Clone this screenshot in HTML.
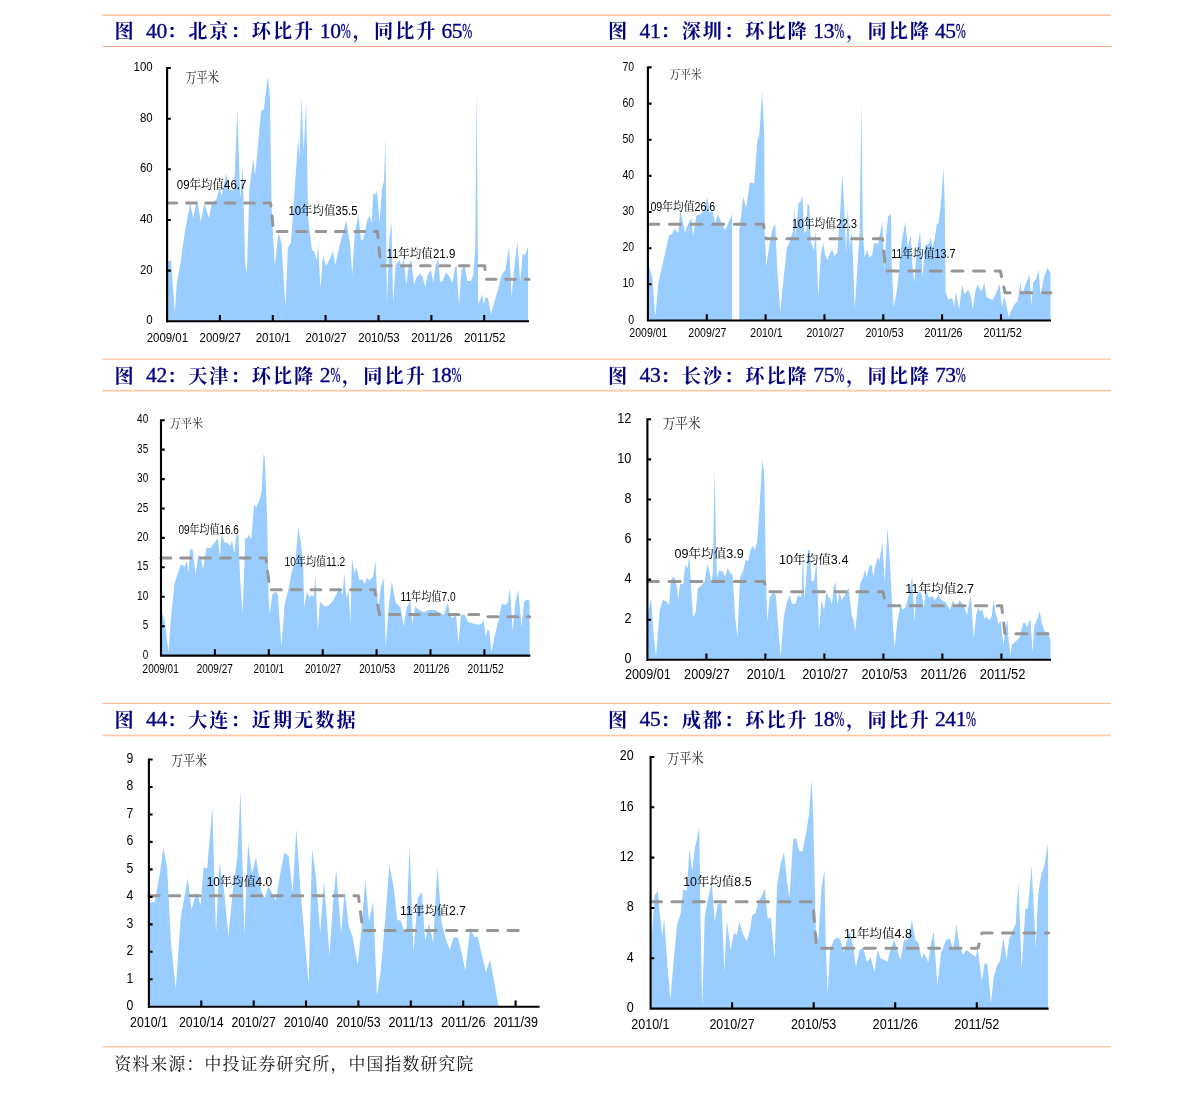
<!DOCTYPE html>
<html lang="zh"><head><meta charset="utf-8"><title>charts</title>
<style>html,body{margin:0;padding:0;background:#fff}svg{display:block}</style></head>
<body><svg width="1191" height="1094" viewBox="0 0 1191 1094">
<rect width="1191" height="1094" fill="#fff"/>
<path d="M167.1 321.3 L167.1 261.2 L171.1 260.5 L174.8 313.1 L176.8 283.5 L181 260 L184.7 232.8 L190.1 203.2 L193.3 218 L197 198.3 L200.7 221.7 L204.4 203.2 L208.9 218 L211.9 203.2 L216.3 199.5 L219.3 188.4 L221.7 195.8 L226.2 173.6 L229.1 190.9 L234.1 189.6 L237.3 109.4 L240.2 198.3 L242.7 166.2 L245.2 264.9 L246.9 272.3 L249.4 188.4 L253.3 158.8 L255.1 176 L261.2 110.6 L263.7 109.4 L267.9 76.8 L269.9 97 L271.6 208.1 L274.8 266.2 L278.5 232.8 L281.5 242.7 L285.4 306.9 L287.9 247.7 L290.9 242.7 L294.6 190.9 L298.3 136.5 L299.5 158.8 L301.5 98.3 L303.7 151.4 L306.2 102 L308.1 218 L311.9 250.1 L314.3 251.4 L316.8 260 L318 244 L320.5 288.4 L323 255.1 L325.9 266.2 L330.4 257.5 L332.8 251.4 L335.3 264.9 L339 247.7 L340 244 L343 232.8 L346.2 220.5 L349.9 242.7 L352.3 274.8 L354.8 232.8 L358.5 214.3 L361 240.2 L363.5 239 L367.2 220.5 L369.6 215.6 L371.6 223 L373.3 193.3 L375.8 194.6 L377 190.9 L379.5 223 L382 188.4 L384 181 L385.4 137.8 L386.9 304.4 L389.4 237.8 L391.4 221.7 L393.1 303.2 L395.6 264.9 L399.3 260 L401.7 266.2 L403.7 257.5 L406.2 284.7 L408.6 267.4 L411.1 258.8 L414.1 284.7 L416.5 277.3 L420.2 273.6 L422.7 277.3 L425.2 287.2 L427.7 274.8 L430.9 269.9 L433.3 282.2 L435.8 264.9 L438.3 258.8 L440 282.2 L442.5 281 L446.2 272.3 L449.9 277.3 L452.3 283.5 L454.8 268.6 L456.5 264.9 L459 305.7 L461.5 269.9 L464.7 264.9 L467.2 281 L470.9 281 L473.3 274.8 L475.3 247.7 L476.5 88.4 L478.3 304.4 L482 294.6 L483.7 304.4 L485.7 297 L488.1 298.3 L491.1 314.3 L493.6 304.4 L498 289.6 L501.7 274.8 L505.4 269.9 L509.1 246.4 L511.6 297 L514.8 262.5 L517.3 241.5 L520.2 282.2 L522.7 253.8 L525.2 255.1 L527.7 247.7 L528 247.7 L528 321.3Z" fill="#99ccff"/>
<path d="M167.1 203 L270.6 203 L273.6 231.4 L377.5 231.4 L380.7 265.8 L484.6 265.8 L486.5 279.3 L529 279.3" fill="none" stroke="#969696" stroke-width="3" stroke-dasharray="9.6 9.8" stroke-linecap="round" stroke-linejoin="round"/>
<path d="M167.1 67V322.4M166.1 321.3H529M167.1 270.6h3.7M167.1 220h3.7M167.1 169.3h3.7M167.1 118.7h3.7M167.1 68h3.7M219.9 321.3v-6.3M272.8 321.3v-6.3M325.6 321.3v-6.3M378.5 321.3v-6.3M431.4 321.3v-6.3M484.2 321.3v-6.3" fill="none" stroke="#000" stroke-width="2.1"/>
<text x="152.7" y="324.3" font-size="13.3" font-family='"Liberation Sans","Noto Serif CJK SC",sans-serif' fill="#000" text-anchor="end" textLength="6.4" lengthAdjust="spacingAndGlyphs">0</text>
<text x="152.7" y="273.6" font-size="13.3" font-family='"Liberation Sans","Noto Serif CJK SC",sans-serif' fill="#000" text-anchor="end" textLength="12.7" lengthAdjust="spacingAndGlyphs">20</text>
<text x="152.7" y="222.9" font-size="13.3" font-family='"Liberation Sans","Noto Serif CJK SC",sans-serif' fill="#000" text-anchor="end" textLength="12.7" lengthAdjust="spacingAndGlyphs">40</text>
<text x="152.7" y="172.3" font-size="13.3" font-family='"Liberation Sans","Noto Serif CJK SC",sans-serif' fill="#000" text-anchor="end" textLength="12.7" lengthAdjust="spacingAndGlyphs">60</text>
<text x="152.7" y="121.6" font-size="13.3" font-family='"Liberation Sans","Noto Serif CJK SC",sans-serif' fill="#000" text-anchor="end" textLength="12.7" lengthAdjust="spacingAndGlyphs">80</text>
<text x="152.7" y="71" font-size="13.3" font-family='"Liberation Sans","Noto Serif CJK SC",sans-serif' fill="#000" text-anchor="end" textLength="19.1" lengthAdjust="spacingAndGlyphs">100</text>
<text x="146.7" y="342" font-size="13.3" font-family='"Liberation Sans","Noto Serif CJK SC",sans-serif' fill="#000" textLength="41.3" lengthAdjust="spacingAndGlyphs">2009/01</text>
<text x="199.6" y="342" font-size="13.3" font-family='"Liberation Sans","Noto Serif CJK SC",sans-serif' fill="#000" textLength="41.3" lengthAdjust="spacingAndGlyphs">2009/27</text>
<text x="255.7" y="342" font-size="13.3" font-family='"Liberation Sans","Noto Serif CJK SC",sans-serif' fill="#000" textLength="35" lengthAdjust="spacingAndGlyphs">2010/1</text>
<text x="305.4" y="342" font-size="13.3" font-family='"Liberation Sans","Noto Serif CJK SC",sans-serif' fill="#000" textLength="41.3" lengthAdjust="spacingAndGlyphs">2010/27</text>
<text x="358.3" y="342" font-size="13.3" font-family='"Liberation Sans","Noto Serif CJK SC",sans-serif' fill="#000" textLength="41.3" lengthAdjust="spacingAndGlyphs">2010/53</text>
<text x="411.2" y="342" font-size="13.3" font-family='"Liberation Sans","Noto Serif CJK SC",sans-serif' fill="#000" textLength="41.3" lengthAdjust="spacingAndGlyphs">2011/26</text>
<text x="464.1" y="342" font-size="13.3" font-family='"Liberation Sans","Noto Serif CJK SC",sans-serif' fill="#000" textLength="41.3" lengthAdjust="spacingAndGlyphs">2011/52</text>
<text x="185.4" y="81.8" font-size="13.1" font-family='"Liberation Serif","Noto Serif CJK SC",serif' fill="#222" textLength="33.6" lengthAdjust="spacingAndGlyphs">万平米</text>
<text x="176.8" y="188.6" font-size="12.3" font-family='"Liberation Sans","Noto Serif CJK SC",sans-serif' fill="#000" textLength="69.6" lengthAdjust="spacingAndGlyphs">09年均值46.7</text>
<text x="288.4" y="214.6" font-size="12.3" font-family='"Liberation Sans","Noto Serif CJK SC",sans-serif' fill="#000" textLength="69.1" lengthAdjust="spacingAndGlyphs">10年均值35.5</text>
<text x="386.4" y="257.5" font-size="12.3" font-family='"Liberation Sans","Noto Serif CJK SC",sans-serif' fill="#000" textLength="68.9" lengthAdjust="spacingAndGlyphs">11年均值21.9</text>
<path d="M647.9 320.5 L647.9 262.5 L652.3 277.3 L655.3 316.8 L658.5 282.2 L664.7 255.1 L669.1 235.3 L672.1 234.1 L674.1 229.1 L678.3 232.8 L680.2 210.6 L683.2 224.2 L684.9 232.8 L688.1 224.2 L691.4 218 L693.1 236.5 L696.3 215.6 L700.5 214.3 L704.2 210.6 L707.2 197 L709.6 213.1 L712.1 210.6 L715.3 223 L717.8 214.3 L721.5 223 L725.2 230.4 L729.4 220.5 L732.1 214.3 L732.1 320 L739.3 320 L739.3 230.4 L743.2 197 L746.2 208.1 L749.9 182.2 L754.1 183.5 L757.3 141.5 L759.3 134.1 L762.2 92.1 L764.2 134.1 L764.7 232.8 L766.4 266.2 L769.6 242.7 L772.8 227.9 L775.3 224.2 L777 264.9 L780.2 311.9 L783.2 282.2 L786.9 247.7 L789.4 242.7 L793.1 230.4 L794.3 205.7 L795.6 237.8 L798.5 203.2 L800.5 202 L802.5 195.8 L804.2 232.8 L806.7 230.4 L807.4 203.2 L809.4 205.7 L810.9 242.7 L814.1 250.1 L815.8 230.4 L818.3 297 L820.7 255.1 L823.2 242.7 L825.2 255.1 L827.7 260 L830 252.6 L832.5 250.1 L834.4 256.3 L837.4 252.6 L840.4 208.1 L842.3 173.6 L844.3 208.1 L846 252.6 L847.8 208.1 L849.8 247.7 L851.7 230.4 L853 257.5 L854.7 309.4 L857.2 269.9 L859.6 232.8 L861.4 103.2 L862.8 232.8 L864.6 257.5 L867 250.1 L869.5 257.5 L872 255.1 L874.4 242.7 L878.1 244 L880.6 230.4 L882.3 220.5 L884.3 269.9 L886.3 232.8 L888 216.8 L891 214.3 L891.7 264.9 L893.7 306.9 L896.7 292.1 L899.1 269.9 L901.6 242.7 L905.3 221.7 L907.8 247.7 L910.7 235.3 L912.7 269.9 L914.4 282.2 L916.4 255.1 L920.1 230.4 L922.6 277.3 L925.1 245.2 L928.8 244 L930.7 237.8 L932.5 247.7 L934.9 237.8 L936.7 224.2 L938.6 223 L941.1 200.7 L943.6 167.4 L944.8 208.1 L945.6 292.1 L948 299.5 L952.2 298.3 L954.2 306.9 L955.9 292.1 L959.1 309.4 L962.1 284.7 L964.6 294.6 L968.3 289.6 L971.2 298.3 L972.7 309.4 L975.7 289.6 L978.1 284.7 L980.6 290.9 L980 291.4 L982.5 288.9 L984.3 282.1 L986.2 296.3 L989.3 298.8 L993 299.4 L996 293.8 L999.5 284 L1002 307.4 L1004.1 296.3 L1005.9 302.5 L1008.6 317.3 L1010.9 311.1 L1015.8 302.5 L1017.7 301.2 L1020.5 282.1 L1022 295.1 L1025.7 284 L1029.6 274.7 L1031.2 306.2 L1033.1 282.7 L1036.2 279 L1038.6 269.8 L1040.5 295.1 L1044.2 276.5 L1047.5 267.9 L1050.1 272.8 L1050.5 272.8 L1050.5 320.5Z" fill="#99ccff"/>
<path d="M647.9 224.3 L763.5 224.3 L766 238.8 L882.6 238.8 L885.6 271 L1000.4 271 L1005 292.7 L1051 292.7" fill="none" stroke="#969696" stroke-width="3" stroke-dasharray="11 10.6" stroke-linecap="round" stroke-linejoin="round"/>
<path d="M647.9 66.4V321.6M646.9 320.5H1051M647.9 284.3h3.7M647.9 248.2h3.7M647.9 212h3.7M647.9 175.9h3.7M647.9 139.7h3.7M647.9 103.6h3.7M647.9 67.4h3.7M706.8 320.5v-6.3M765.6 320.5v-6.3M824.5 320.5v-6.3M883.3 320.5v-6.3M942.1 320.5v-6.3M1001 320.5v-6.3" fill="none" stroke="#000" stroke-width="2.1"/>
<text x="634.2" y="323.6" font-size="12.8" font-family='"Liberation Sans","Noto Serif CJK SC",sans-serif' fill="#000" text-anchor="end" textLength="5.9" lengthAdjust="spacingAndGlyphs">0</text>
<text x="634.2" y="287.4" font-size="12.8" font-family='"Liberation Sans","Noto Serif CJK SC",sans-serif' fill="#000" text-anchor="end" textLength="11.7" lengthAdjust="spacingAndGlyphs">10</text>
<text x="634.2" y="251.3" font-size="12.8" font-family='"Liberation Sans","Noto Serif CJK SC",sans-serif' fill="#000" text-anchor="end" textLength="11.7" lengthAdjust="spacingAndGlyphs">20</text>
<text x="634.2" y="215.1" font-size="12.8" font-family='"Liberation Sans","Noto Serif CJK SC",sans-serif' fill="#000" text-anchor="end" textLength="11.7" lengthAdjust="spacingAndGlyphs">30</text>
<text x="634.2" y="179" font-size="12.8" font-family='"Liberation Sans","Noto Serif CJK SC",sans-serif' fill="#000" text-anchor="end" textLength="11.7" lengthAdjust="spacingAndGlyphs">40</text>
<text x="634.2" y="142.8" font-size="12.8" font-family='"Liberation Sans","Noto Serif CJK SC",sans-serif' fill="#000" text-anchor="end" textLength="11.7" lengthAdjust="spacingAndGlyphs">50</text>
<text x="634.2" y="106.6" font-size="12.8" font-family='"Liberation Sans","Noto Serif CJK SC",sans-serif' fill="#000" text-anchor="end" textLength="11.7" lengthAdjust="spacingAndGlyphs">60</text>
<text x="634.2" y="70.5" font-size="12.8" font-family='"Liberation Sans","Noto Serif CJK SC",sans-serif' fill="#000" text-anchor="end" textLength="11.7" lengthAdjust="spacingAndGlyphs">70</text>
<text x="629.3" y="336.9" font-size="12.8" font-family='"Liberation Sans","Noto Serif CJK SC",sans-serif' fill="#000" textLength="38.1" lengthAdjust="spacingAndGlyphs">2009/01</text>
<text x="688.3" y="336.9" font-size="12.8" font-family='"Liberation Sans","Noto Serif CJK SC",sans-serif' fill="#000" textLength="38.1" lengthAdjust="spacingAndGlyphs">2009/27</text>
<text x="750.3" y="336.9" font-size="12.8" font-family='"Liberation Sans","Noto Serif CJK SC",sans-serif' fill="#000" textLength="32.2" lengthAdjust="spacingAndGlyphs">2010/1</text>
<text x="806.4" y="336.9" font-size="12.8" font-family='"Liberation Sans","Noto Serif CJK SC",sans-serif' fill="#000" textLength="38.1" lengthAdjust="spacingAndGlyphs">2010/27</text>
<text x="865.5" y="336.9" font-size="12.8" font-family='"Liberation Sans","Noto Serif CJK SC",sans-serif' fill="#000" textLength="38.1" lengthAdjust="spacingAndGlyphs">2010/53</text>
<text x="924.5" y="336.9" font-size="12.8" font-family='"Liberation Sans","Noto Serif CJK SC",sans-serif' fill="#000" textLength="38.1" lengthAdjust="spacingAndGlyphs">2011/26</text>
<text x="983.6" y="336.9" font-size="12.8" font-family='"Liberation Sans","Noto Serif CJK SC",sans-serif' fill="#000" textLength="38.1" lengthAdjust="spacingAndGlyphs">2011/52</text>
<text x="669.6" y="78.6" font-size="12.1" font-family='"Liberation Serif","Noto Serif CJK SC",serif' fill="#222" textLength="32.1" lengthAdjust="spacingAndGlyphs">万平米</text>
<text x="650.4" y="211.2" font-size="12.3" font-family='"Liberation Sans","Noto Serif CJK SC",sans-serif' fill="#000" textLength="64.9" lengthAdjust="spacingAndGlyphs">09年均值26.6</text>
<text x="791.9" y="227.6" font-size="12.3" font-family='"Liberation Sans","Noto Serif CJK SC",sans-serif' fill="#000" textLength="65.1" lengthAdjust="spacingAndGlyphs">10年均值22.3</text>
<text x="891.2" y="257.6" font-size="12.3" font-family='"Liberation Sans","Noto Serif CJK SC",sans-serif' fill="#000" textLength="64.3" lengthAdjust="spacingAndGlyphs">11年均值13.7</text>
<path d="M161 655.6 L161 609.9 L164.8 621 L168.5 651.9 L171 617.3 L174.7 582.7 L177.2 575.3 L180.9 564.2 L184.6 566.7 L187 560.5 L188.3 572.8 L190.2 549.4 L192.5 549.4 L195.7 574.1 L198.1 555.6 L200.6 556.8 L203.1 569.1 L206.3 548.1 L210.5 548.1 L214.2 543.2 L217.9 538.3 L219.9 558 L221.6 533.3 L224.1 542 L227.8 543.2 L230.2 545.7 L232 540.7 L234.4 553.1 L236.4 534.6 L238.4 534.6 L240.1 577.8 L242.6 613.6 L244.6 560.5 L245.1 538.3 L247.5 538.3 L248.8 534.6 L251.2 539.5 L254.2 503.7 L256.2 507.4 L259.9 498.8 L261.6 491.4 L263.6 454.3 L264.8 458 L267.3 523.5 L268.5 597.5 L269.8 613.6 L272.2 595.1 L275.9 591.4 L277.9 595.1 L281.4 646.9 L284.6 604.9 L288.3 590.1 L292 570.4 L295.7 560.5 L298.1 527.2 L300.6 540.7 L303.1 563 L304.3 607.4 L306.8 591.4 L309.3 597.5 L311.7 595.1 L313.5 597.5 L315.4 576.5 L317.9 632.1 L319.9 601.2 L324.1 606.2 L327.8 606.2 L332.7 601.2 L337.7 591.4 L340 587.7 L342.5 595.1 L344.4 572.8 L346.2 597.5 L348.6 591.4 L350.4 623.5 L351.9 558 L354.3 572.8 L356.8 567.9 L359.3 580.2 L362.2 579 L364.7 584 L367.2 577.8 L369.6 580.2 L373.3 576.5 L375.3 560.5 L377 590.1 L378.3 609.9 L380.7 587.7 L383.7 577.8 L385.7 646.9 L388.9 604.9 L391.9 581.5 L395.6 602.5 L400.5 607.4 L403.7 625.9 L406.7 607.4 L410.4 601.2 L412.3 623.5 L415.3 606.2 L419 609.9 L424 612.3 L428.9 609.9 L435.1 609.9 L438.8 612.3 L443.7 614.8 L447.9 602.5 L449.9 614.8 L452.3 618.5 L456 614.8 L458.5 643.2 L461 614.8 L464.7 614.8 L468.4 622.2 L473.3 623.5 L478.3 624.7 L482 623.5 L483.7 619.8 L485.7 637 L487.7 629.6 L489.4 630.9 L491.4 651.9 L494.3 638.3 L498 622.2 L501.7 603.7 L505.4 604.9 L507.9 602.5 L509.9 587.7 L512.8 632.1 L515.3 602.5 L518.3 590.1 L521.5 627.2 L524 602.5 L526.4 599.5 L528.9 600.5 L529.6 600.5 L529.6 655.6Z" fill="#99ccff"/>
<path d="M161 557.9 L266 557.9 L269.8 589.7 L374.6 589.7 L379.5 614.4 L484.4 614.4 L488 616.8 L529.6 616.8" fill="none" stroke="#969696" stroke-width="3" stroke-dasharray="9.9 9.9" stroke-linecap="round" stroke-linejoin="round"/>
<path d="M161 419.2V656.7M160 655.6H530.3M161 626.2h3.7M161 596.8h3.7M161 567.3h3.7M161 537.9h3.7M161 508.5h3.7M161 479.1h3.7M161 449.6h3.7M161 420.2h3.7M214.9 655.6v-6.3M268.8 655.6v-6.3M322.7 655.6v-6.3M376.6 655.6v-6.3M430.5 655.6v-6.3M484.4 655.6v-6.3" fill="none" stroke="#000" stroke-width="2.1"/>
<text x="148.2" y="658.7" font-size="12.8" font-family='"Liberation Sans","Noto Serif CJK SC",sans-serif' fill="#000" text-anchor="end" textLength="5.5" lengthAdjust="spacingAndGlyphs">0</text>
<text x="148.2" y="629.3" font-size="12.8" font-family='"Liberation Sans","Noto Serif CJK SC",sans-serif' fill="#000" text-anchor="end" textLength="5.5" lengthAdjust="spacingAndGlyphs">5</text>
<text x="148.2" y="599.8" font-size="12.8" font-family='"Liberation Sans","Noto Serif CJK SC",sans-serif' fill="#000" text-anchor="end" textLength="11.1" lengthAdjust="spacingAndGlyphs">10</text>
<text x="148.2" y="570.4" font-size="12.8" font-family='"Liberation Sans","Noto Serif CJK SC",sans-serif' fill="#000" text-anchor="end" textLength="11.1" lengthAdjust="spacingAndGlyphs">15</text>
<text x="148.2" y="541" font-size="12.8" font-family='"Liberation Sans","Noto Serif CJK SC",sans-serif' fill="#000" text-anchor="end" textLength="11.1" lengthAdjust="spacingAndGlyphs">20</text>
<text x="148.2" y="511.6" font-size="12.8" font-family='"Liberation Sans","Noto Serif CJK SC",sans-serif' fill="#000" text-anchor="end" textLength="11.1" lengthAdjust="spacingAndGlyphs">25</text>
<text x="148.2" y="482.1" font-size="12.8" font-family='"Liberation Sans","Noto Serif CJK SC",sans-serif' fill="#000" text-anchor="end" textLength="11.1" lengthAdjust="spacingAndGlyphs">30</text>
<text x="148.2" y="452.7" font-size="12.8" font-family='"Liberation Sans","Noto Serif CJK SC",sans-serif' fill="#000" text-anchor="end" textLength="11.1" lengthAdjust="spacingAndGlyphs">35</text>
<text x="148.2" y="423.3" font-size="12.8" font-family='"Liberation Sans","Noto Serif CJK SC",sans-serif' fill="#000" text-anchor="end" textLength="11.1" lengthAdjust="spacingAndGlyphs">40</text>
<text x="142.6" y="672.5" font-size="12.8" font-family='"Liberation Sans","Noto Serif CJK SC",sans-serif' fill="#000" textLength="36.1" lengthAdjust="spacingAndGlyphs">2009/01</text>
<text x="196.7" y="672.5" font-size="12.8" font-family='"Liberation Sans","Noto Serif CJK SC",sans-serif' fill="#000" textLength="36.1" lengthAdjust="spacingAndGlyphs">2009/27</text>
<text x="253.6" y="672.5" font-size="12.8" font-family='"Liberation Sans","Noto Serif CJK SC",sans-serif' fill="#000" textLength="30.5" lengthAdjust="spacingAndGlyphs">2010/1</text>
<text x="305" y="672.5" font-size="12.8" font-family='"Liberation Sans","Noto Serif CJK SC",sans-serif' fill="#000" textLength="36.1" lengthAdjust="spacingAndGlyphs">2010/27</text>
<text x="359.2" y="672.5" font-size="12.8" font-family='"Liberation Sans","Noto Serif CJK SC",sans-serif' fill="#000" textLength="36.1" lengthAdjust="spacingAndGlyphs">2010/53</text>
<text x="413.3" y="672.5" font-size="12.8" font-family='"Liberation Sans","Noto Serif CJK SC",sans-serif' fill="#000" textLength="36.1" lengthAdjust="spacingAndGlyphs">2011/26</text>
<text x="467.5" y="672.5" font-size="12.8" font-family='"Liberation Sans","Noto Serif CJK SC",sans-serif' fill="#000" textLength="36.1" lengthAdjust="spacingAndGlyphs">2011/52</text>
<text x="169.8" y="428.4" font-size="12.1" font-family='"Liberation Serif","Noto Serif CJK SC",serif' fill="#222" textLength="33.3" lengthAdjust="spacingAndGlyphs">万平米</text>
<text x="178.4" y="534.2" font-size="12.3" font-family='"Liberation Sans","Noto Serif CJK SC",sans-serif' fill="#000" textLength="60.5" lengthAdjust="spacingAndGlyphs">09年均值16.6</text>
<text x="284.6" y="566.3" font-size="12.3" font-family='"Liberation Sans","Noto Serif CJK SC",sans-serif' fill="#000" textLength="60.5" lengthAdjust="spacingAndGlyphs">10年均值11.2</text>
<text x="400.5" y="600.9" font-size="12.3" font-family='"Liberation Sans","Noto Serif CJK SC",sans-serif' fill="#000" textLength="55.1" lengthAdjust="spacingAndGlyphs">11年均值7.0</text>
<path d="M647.4 659.8 L647.4 617.3 L651.1 597.5 L653.6 634.6 L656 656.8 L659.8 609.9 L662.7 600 L665.9 601.2 L669.1 604.9 L670.9 580.2 L673.3 576.5 L675.8 580.2 L678.3 598.8 L680 584 L683.2 584 L685.2 565.4 L687.4 567.9 L689.4 555.6 L691.1 587.7 L693.1 617.3 L695.6 612.3 L698 587.7 L700.5 586.4 L704.7 581.5 L707.2 564.2 L709.1 570.4 L711.6 582.7 L712.8 572.8 L714.6 469.1 L716 548.1 L717 577.8 L719 570.4 L722.7 571.6 L725.2 576.5 L727.7 567.9 L730.1 572.8 L732.6 575.3 L735.1 617.3 L737.5 637 L740 577.8 L743.2 570.4 L745.7 559.3 L748.1 561.7 L750.6 549.4 L753.1 545.7 L754.8 550.6 L757.3 540.7 L759.8 503.7 L762.2 459.3 L764.2 474.1 L765.9 572.8 L767.2 622.2 L769.6 597.5 L773.3 592.6 L775.8 595.1 L777.8 622.2 L780.7 656.8 L783.7 617.3 L786.9 602.5 L789.4 595.1 L791.9 603.7 L795.6 603.7 L798 595.1 L800.5 597.5 L801.7 592.6 L803 548.1 L804.2 600 L805.9 582.7 L807.9 550.6 L809.9 549.4 L811.6 581.5 L814.1 580.2 L816.5 560.5 L817.8 597.5 L819 632.1 L821.5 600 L824 609.9 L826.4 592.6 L828.9 597.5 L830 597.5 L832 604.9 L833.7 587.7 L835.4 581.5 L837.4 604.9 L839.4 592.6 L841.9 600 L844.8 595.1 L848.5 587.7 L851.7 614.8 L853.5 619.8 L855.2 632.1 L857.7 604.9 L860.1 584 L863.3 576.5 L865.1 569.1 L866.5 577.8 L869 566.7 L871.5 564.2 L873.2 576.5 L875.7 564.2 L878.1 556.8 L879.4 561.7 L882.3 542 L884.8 582.7 L887.5 527.2 L889.8 560.5 L891.7 597.5 L893 627.2 L894.7 648.1 L897.2 622.2 L900.4 604.9 L902.8 609.9 L905.3 607.4 L909 595.1 L912.2 576.5 L914.4 621 L916.4 595.1 L920.1 591.4 L921.9 595.1 L923.8 608.6 L925.8 590.1 L928.8 597.5 L932.5 596.3 L934.9 600 L938.6 595.1 L941.6 600 L946 602.5 L949.8 609.9 L953 600 L955.9 608.6 L959.6 600 L963.3 604.9 L967 614.8 L970.7 595.1 L973.7 638.3 L976.2 614.8 L978.1 607.4 L980 611.6 L982.5 609.8 L984.3 619 L986.2 616.5 L989.3 620.2 L991.7 616.5 L993.6 599.3 L995.4 611.6 L998.5 624.6 L1000.4 620.2 L1003.5 644.9 L1005.3 628.9 L1007.4 619.6 L1008.6 638.8 L1010.5 655.4 L1012.1 644.3 L1015.8 641.2 L1019.5 637.5 L1023.2 623.3 L1025.1 622.7 L1026.9 627 L1030.4 618.4 L1031.2 632.6 L1032.7 652.3 L1034.3 625.8 L1037.4 619 L1039.6 611 L1041.7 622.7 L1044.8 631.4 L1047.9 632.6 L1050.5 640 L1050.5 659.8Z" fill="#99ccff"/>
<path d="M647.4 581.6 L764.2 581.6 L767 591.7 L883 591.7 L886 605.7 L1001.6 605.7 L1005 633.7 L1048 633.7" fill="none" stroke="#969696" stroke-width="3" stroke-dasharray="11.1 10.6" stroke-linecap="round" stroke-linejoin="round"/>
<path d="M647.4 418.3V660.9M646.4 659.8H1051M647.4 619.7h3.7M647.4 579.6h3.7M647.4 539.5h3.7M647.4 499.5h3.7M647.4 459.4h3.7M647.4 419.3h3.7M706.4 659.8v-6.3M765.4 659.8v-6.3M824.4 659.8v-6.3M883.4 659.8v-6.3M942.4 659.8v-6.3M1001.4 659.8v-6.3" fill="none" stroke="#000" stroke-width="2.1"/>
<text x="631.4" y="663.1" font-size="14.3" font-family='"Liberation Sans","Noto Serif CJK SC",sans-serif' fill="#000" text-anchor="end" textLength="7" lengthAdjust="spacingAndGlyphs">0</text>
<text x="631.4" y="623" font-size="14.3" font-family='"Liberation Sans","Noto Serif CJK SC",sans-serif' fill="#000" text-anchor="end" textLength="7" lengthAdjust="spacingAndGlyphs">2</text>
<text x="631.4" y="583" font-size="14.3" font-family='"Liberation Sans","Noto Serif CJK SC",sans-serif' fill="#000" text-anchor="end" textLength="7" lengthAdjust="spacingAndGlyphs">4</text>
<text x="631.4" y="542.9" font-size="14.3" font-family='"Liberation Sans","Noto Serif CJK SC",sans-serif' fill="#000" text-anchor="end" textLength="7" lengthAdjust="spacingAndGlyphs">6</text>
<text x="631.4" y="502.8" font-size="14.3" font-family='"Liberation Sans","Noto Serif CJK SC",sans-serif' fill="#000" text-anchor="end" textLength="7" lengthAdjust="spacingAndGlyphs">8</text>
<text x="631.4" y="462.7" font-size="14.3" font-family='"Liberation Sans","Noto Serif CJK SC",sans-serif' fill="#000" text-anchor="end" textLength="14.1" lengthAdjust="spacingAndGlyphs">10</text>
<text x="631.4" y="422.6" font-size="14.3" font-family='"Liberation Sans","Noto Serif CJK SC",sans-serif' fill="#000" text-anchor="end" textLength="14.1" lengthAdjust="spacingAndGlyphs">12</text>
<text x="625" y="679.3" font-size="14.3" font-family='"Liberation Sans","Noto Serif CJK SC",sans-serif' fill="#000" textLength="45.8" lengthAdjust="spacingAndGlyphs">2009/01</text>
<text x="684.1" y="679.3" font-size="14.3" font-family='"Liberation Sans","Noto Serif CJK SC",sans-serif' fill="#000" textLength="45.8" lengthAdjust="spacingAndGlyphs">2009/27</text>
<text x="746.8" y="679.3" font-size="14.3" font-family='"Liberation Sans","Noto Serif CJK SC",sans-serif' fill="#000" textLength="38.8" lengthAdjust="spacingAndGlyphs">2010/1</text>
<text x="802.3" y="679.3" font-size="14.3" font-family='"Liberation Sans","Noto Serif CJK SC",sans-serif' fill="#000" textLength="45.8" lengthAdjust="spacingAndGlyphs">2010/27</text>
<text x="861.5" y="679.3" font-size="14.3" font-family='"Liberation Sans","Noto Serif CJK SC",sans-serif' fill="#000" textLength="45.8" lengthAdjust="spacingAndGlyphs">2010/53</text>
<text x="920.6" y="679.3" font-size="14.3" font-family='"Liberation Sans","Noto Serif CJK SC",sans-serif' fill="#000" textLength="45.8" lengthAdjust="spacingAndGlyphs">2011/26</text>
<text x="979.7" y="679.3" font-size="14.3" font-family='"Liberation Sans","Noto Serif CJK SC",sans-serif' fill="#000" textLength="45.8" lengthAdjust="spacingAndGlyphs">2011/52</text>
<text x="662.7" y="428.4" font-size="13.1" font-family='"Liberation Serif","Noto Serif CJK SC",serif' fill="#222" textLength="37.8" lengthAdjust="spacingAndGlyphs">万平米</text>
<text x="674.6" y="558.4" font-size="12.3" font-family='"Liberation Sans","Noto Serif CJK SC",sans-serif' fill="#000" textLength="69.1" lengthAdjust="spacingAndGlyphs">09年均值3.9</text>
<text x="779" y="563.8" font-size="12.3" font-family='"Liberation Sans","Noto Serif CJK SC",sans-serif' fill="#000" textLength="69.4" lengthAdjust="spacingAndGlyphs">10年均值3.4</text>
<text x="905.3" y="593.3" font-size="12.3" font-family='"Liberation Sans","Noto Serif CJK SC",sans-serif' fill="#000" textLength="68.7" lengthAdjust="spacingAndGlyphs">11年均值2.7</text>
<path d="M148.9 1006.8 L148.9 903 L154.8 901.8 L159.8 873.4 L163.5 847.5 L167.2 868.5 L170.9 942.5 L175.8 988.2 L180.7 917.8 L187.7 878.3 L191.4 909.2 L196.8 891.9 L200.5 905.5 L203.7 867.2 L207.2 868.5 L212.3 806.7 L216 933.9 L219.5 863.5 L224 889.4 L228.4 936.4 L232.6 893.1 L237.5 856.1 L240.5 790.7 L244.4 935.1 L248.1 842.5 L251.9 873.4 L256 857.3 L261 890.7 L264.7 898.1 L268.4 885.7 L275.8 900.6 L280.7 870.9 L284.4 852.4 L288.6 856.1 L292.6 893.1 L296.3 829 L300.5 890.7 L308.6 984.5 L312.1 848.7 L315.8 875.9 L320.2 932.7 L324 880.8 L329.6 957.3 L330 946.2 L333 903 L336.2 869.7 L341.1 932.7 L344.8 890.7 L348.5 925.2 L352.7 937.6 L357.7 964.8 L361.6 927.7 L365.3 879.6 L369 921.5 L373.2 901.8 L376.9 995.6 L380.6 972.2 L385.6 915.4 L389.3 864.8 L393.7 887 L397.2 920.3 L400.4 920.3 L404.1 930.2 L406.5 929 L409.5 845 L413.5 952.4 L417.7 898.1 L421.9 891.9 L425.1 941.3 L428.8 922.8 L433.2 942.5 L437.4 866 L441.6 922.8 L446 940.1 L449.8 949.9 L453.5 937.6 L457.9 937.6 L462.1 954.9 L465.3 970.9 L470.2 927.7 L474.4 937.6 L477.7 936.4 L481.9 954.9 L486 972.2 L490 959.8 L494.2 982 L498.4 1006 L498.4 1006.8Z" fill="#99ccff"/>
<path d="M148.9 895.8 L358.4 895.8 L362.8 930.4 L526.7 930.4" fill="none" stroke="#969696" stroke-width="3" stroke-dasharray="10.3 10.2" stroke-linecap="round" stroke-linejoin="round"/>
<path d="M148.9 758.5V1007.9M147.9 1006.8H539.6M148.9 979.3h3.7M148.9 951.8h3.7M148.9 924.4h3.7M148.9 896.9h3.7M148.9 869.4h3.7M148.9 841.9h3.7M148.9 814.5h3.7M148.9 787h3.7M148.9 759.5h3.7M201.3 1006.8v-6.3M253.7 1006.8v-6.3M306 1006.8v-6.3M358.4 1006.8v-6.3M410.8 1006.8v-6.3M463.2 1006.8v-6.3M515.6 1006.8v-6.3" fill="none" stroke="#000" stroke-width="2.1"/>
<text x="133.3" y="1010" font-size="14.5" font-family='"Liberation Sans","Noto Serif CJK SC",sans-serif' fill="#000" text-anchor="end" textLength="6.8" lengthAdjust="spacingAndGlyphs">0</text>
<text x="133.3" y="982.5" font-size="14.5" font-family='"Liberation Sans","Noto Serif CJK SC",sans-serif' fill="#000" text-anchor="end" textLength="6.8" lengthAdjust="spacingAndGlyphs">1</text>
<text x="133.3" y="955" font-size="14.5" font-family='"Liberation Sans","Noto Serif CJK SC",sans-serif' fill="#000" text-anchor="end" textLength="6.8" lengthAdjust="spacingAndGlyphs">2</text>
<text x="133.3" y="927.6" font-size="14.5" font-family='"Liberation Sans","Noto Serif CJK SC",sans-serif' fill="#000" text-anchor="end" textLength="6.8" lengthAdjust="spacingAndGlyphs">3</text>
<text x="133.3" y="900.1" font-size="14.5" font-family='"Liberation Sans","Noto Serif CJK SC",sans-serif' fill="#000" text-anchor="end" textLength="6.8" lengthAdjust="spacingAndGlyphs">4</text>
<text x="133.3" y="872.6" font-size="14.5" font-family='"Liberation Sans","Noto Serif CJK SC",sans-serif' fill="#000" text-anchor="end" textLength="6.8" lengthAdjust="spacingAndGlyphs">5</text>
<text x="133.3" y="845.1" font-size="14.5" font-family='"Liberation Sans","Noto Serif CJK SC",sans-serif' fill="#000" text-anchor="end" textLength="6.8" lengthAdjust="spacingAndGlyphs">6</text>
<text x="133.3" y="817.6" font-size="14.5" font-family='"Liberation Sans","Noto Serif CJK SC",sans-serif' fill="#000" text-anchor="end" textLength="6.8" lengthAdjust="spacingAndGlyphs">7</text>
<text x="133.3" y="790.2" font-size="14.5" font-family='"Liberation Sans","Noto Serif CJK SC",sans-serif' fill="#000" text-anchor="end" textLength="6.8" lengthAdjust="spacingAndGlyphs">8</text>
<text x="133.3" y="762.7" font-size="14.5" font-family='"Liberation Sans","Noto Serif CJK SC",sans-serif' fill="#000" text-anchor="end" textLength="6.8" lengthAdjust="spacingAndGlyphs">9</text>
<text x="130.1" y="1026.7" font-size="14.5" font-family='"Liberation Sans","Noto Serif CJK SC",sans-serif' fill="#000" textLength="37.7" lengthAdjust="spacingAndGlyphs">2010/1</text>
<text x="179" y="1026.7" font-size="14.5" font-family='"Liberation Sans","Noto Serif CJK SC",sans-serif' fill="#000" textLength="44.5" lengthAdjust="spacingAndGlyphs">2010/14</text>
<text x="231.4" y="1026.7" font-size="14.5" font-family='"Liberation Sans","Noto Serif CJK SC",sans-serif' fill="#000" textLength="44.5" lengthAdjust="spacingAndGlyphs">2010/27</text>
<text x="283.8" y="1026.7" font-size="14.5" font-family='"Liberation Sans","Noto Serif CJK SC",sans-serif' fill="#000" textLength="44.5" lengthAdjust="spacingAndGlyphs">2010/40</text>
<text x="336.2" y="1026.7" font-size="14.5" font-family='"Liberation Sans","Noto Serif CJK SC",sans-serif' fill="#000" textLength="44.5" lengthAdjust="spacingAndGlyphs">2010/53</text>
<text x="388.6" y="1026.7" font-size="14.5" font-family='"Liberation Sans","Noto Serif CJK SC",sans-serif' fill="#000" textLength="44.5" lengthAdjust="spacingAndGlyphs">2011/13</text>
<text x="441" y="1026.7" font-size="14.5" font-family='"Liberation Sans","Noto Serif CJK SC",sans-serif' fill="#000" textLength="44.5" lengthAdjust="spacingAndGlyphs">2011/26</text>
<text x="493.4" y="1026.7" font-size="14.5" font-family='"Liberation Sans","Noto Serif CJK SC",sans-serif' fill="#000" textLength="44.5" lengthAdjust="spacingAndGlyphs">2011/39</text>
<text x="170.9" y="765.3" font-size="13.1" font-family='"Liberation Serif","Noto Serif CJK SC",serif' fill="#222" textLength="36.3" lengthAdjust="spacingAndGlyphs">万平米</text>
<text x="206.7" y="886.2" font-size="12.3" font-family='"Liberation Sans","Noto Serif CJK SC",sans-serif' fill="#000" textLength="65.4" lengthAdjust="spacingAndGlyphs">10年均值4.0</text>
<text x="399.9" y="914.8" font-size="12.3" font-family='"Liberation Sans","Noto Serif CJK SC",sans-serif' fill="#000" textLength="65.9" lengthAdjust="spacingAndGlyphs">11年均值2.7</text>
<path d="M650.6 1008.6 L650.6 949.9 L654.8 895.6 L657.8 890.7 L660.2 917.8 L662.2 935.1 L664.2 919.1 L667.2 962.3 L670.4 999.3 L673.3 964.8 L677 925.2 L680.7 912.9 L683.2 889.4 L686.9 890.7 L689.4 848.7 L692.3 870.9 L694.8 848.7 L699.3 827.7 L700.5 917.8 L702.2 1006.7 L704.7 917.8 L707.9 899.3 L711.6 882 L714.8 921.5 L717.8 904.3 L721.5 903 L724.4 970.9 L726.9 920.3 L730.6 949.9 L733.8 932.7 L736.8 935.1 L739.5 921.5 L742.5 932.7 L746.7 941.3 L749.9 930.2 L752.3 915.4 L755.6 912.9 L758.5 901.8 L762.2 895.6 L764.7 888.2 L767.7 919.1 L770.9 917.8 L774.6 959.8 L777 885.7 L780.7 863.5 L784 852.4 L786.9 880.8 L789.4 898.1 L793.1 840.1 L796 837.6 L799.3 851.2 L802.5 851.2 L805.9 833.9 L809.1 814.1 L811.6 779.6 L813.3 819.1 L815.8 930.2 L818.3 940.1 L821.5 888.2 L824.4 869.7 L825.7 942.5 L827.7 994.4 L830 949.9 L833.7 940.1 L836.9 937.6 L839.9 938.8 L843.6 952.4 L847.3 940.1 L849.8 931.4 L853.5 947.5 L855.9 967.2 L859.6 949.9 L863.3 947.5 L867 962.3 L870.7 957.3 L874.4 972.2 L877.4 949.9 L880.6 958.6 L884.3 959.8 L887.3 962.3 L890.5 949.9 L894.2 940.1 L897.2 949.9 L900.4 959.8 L904.1 940.1 L907.8 940.1 L912 920.3 L915.2 940.1 L918.4 942.5 L921.4 958.6 L924.3 953.6 L928.3 962.3 L931.2 942.5 L933.7 931.4 L937.4 985.7 L941.1 952.4 L946 940.1 L949.8 938.8 L953.5 949.9 L956.4 924 L959.6 947.5 L963.3 954.9 L966.3 949.9 L969.5 952.4 L973.2 954.9 L975.7 957.3 L977.7 947.5 L981.8 980.9 L984.6 963.5 L987.3 963.5 L991 1002.8 L993.7 977.2 L996.8 966.3 L1000.1 960.8 L1003.4 937.9 L1006.5 959.9 L1009.3 938.8 L1015.6 924.2 L1018.4 882.2 L1021.7 969.9 L1025.3 909.6 L1027.9 907.8 L1031.6 865.7 L1035.8 948 L1038.1 895 L1041.2 874.8 L1044 867.5 L1048 843.8 L1048 1008.6Z" fill="#99ccff"/>
<path d="M650.6 901.7 L812.8 901.7 L816.5 948.2 L978 948.2 L981.9 933.1 L1048.6 933.1" fill="none" stroke="#969696" stroke-width="3" stroke-dasharray="10.9 10.5" stroke-linecap="round" stroke-linejoin="round"/>
<path d="M650.6 756V1009.7M649.6 1008.6H1048.6M650.6 958.3h3.7M650.6 908h3.7M650.6 857.6h3.7M650.6 807.3h3.7M650.6 757h3.7M732.1 1008.6v-6.3M813.7 1008.6v-6.3M895.2 1008.6v-6.3M976.8 1008.6v-6.3" fill="none" stroke="#000" stroke-width="2.1"/>
<text x="633.7" y="1011.8" font-size="14.5" font-family='"Liberation Sans","Noto Serif CJK SC",sans-serif' fill="#000" text-anchor="end" textLength="7" lengthAdjust="spacingAndGlyphs">0</text>
<text x="633.7" y="961.5" font-size="14.5" font-family='"Liberation Sans","Noto Serif CJK SC",sans-serif' fill="#000" text-anchor="end" textLength="7" lengthAdjust="spacingAndGlyphs">4</text>
<text x="633.7" y="911.2" font-size="14.5" font-family='"Liberation Sans","Noto Serif CJK SC",sans-serif' fill="#000" text-anchor="end" textLength="7" lengthAdjust="spacingAndGlyphs">8</text>
<text x="633.7" y="860.8" font-size="14.5" font-family='"Liberation Sans","Noto Serif CJK SC",sans-serif' fill="#000" text-anchor="end" textLength="13.9" lengthAdjust="spacingAndGlyphs">12</text>
<text x="633.7" y="810.5" font-size="14.5" font-family='"Liberation Sans","Noto Serif CJK SC",sans-serif' fill="#000" text-anchor="end" textLength="13.9" lengthAdjust="spacingAndGlyphs">16</text>
<text x="633.7" y="760.2" font-size="14.5" font-family='"Liberation Sans","Noto Serif CJK SC",sans-serif' fill="#000" text-anchor="end" textLength="13.9" lengthAdjust="spacingAndGlyphs">20</text>
<text x="631.3" y="1029" font-size="14.5" font-family='"Liberation Sans","Noto Serif CJK SC",sans-serif' fill="#000" textLength="38.2" lengthAdjust="spacingAndGlyphs">2010/1</text>
<text x="709.4" y="1029" font-size="14.5" font-family='"Liberation Sans","Noto Serif CJK SC",sans-serif' fill="#000" textLength="45.2" lengthAdjust="spacingAndGlyphs">2010/27</text>
<text x="791" y="1029" font-size="14.5" font-family='"Liberation Sans","Noto Serif CJK SC",sans-serif' fill="#000" textLength="45.2" lengthAdjust="spacingAndGlyphs">2010/53</text>
<text x="872.6" y="1029" font-size="14.5" font-family='"Liberation Sans","Noto Serif CJK SC",sans-serif' fill="#000" textLength="45.2" lengthAdjust="spacingAndGlyphs">2011/26</text>
<text x="954.2" y="1029" font-size="14.5" font-family='"Liberation Sans","Noto Serif CJK SC",sans-serif' fill="#000" textLength="45.2" lengthAdjust="spacingAndGlyphs">2011/52</text>
<text x="667.2" y="763.4" font-size="13.1" font-family='"Liberation Serif","Noto Serif CJK SC",serif' fill="#222" textLength="36.5" lengthAdjust="spacingAndGlyphs">万平米</text>
<text x="683.2" y="885.7" font-size="12.3" font-family='"Liberation Sans","Noto Serif CJK SC",sans-serif' fill="#000" textLength="68.4" lengthAdjust="spacingAndGlyphs">10年均值8.5</text>
<text x="844.1" y="938.1" font-size="12.3" font-family='"Liberation Sans","Noto Serif CJK SC",sans-serif' fill="#000" textLength="67.9" lengthAdjust="spacingAndGlyphs">11年均值4.8</text>
<rect x="102.5" y="14.3" width="1008.5" height="1.7" fill="#fcc8a6"/>
<rect x="102.5" y="46" width="1008.5" height="1" fill="#f9b183"/>
<rect x="102.5" y="358.6" width="1008.5" height="1" fill="#f9b183"/>
<rect x="102.5" y="389.8" width="1008.5" height="1.7" fill="#fcc8a6"/>
<rect x="102.5" y="702.9" width="1008.5" height="1" fill="#f9b183"/>
<rect x="102.5" y="734.6" width="1008.5" height="1.7" fill="#fcc8a6"/>
<rect x="102.5" y="1046.3" width="1008.5" height="1" fill="#f9b183"/>
<text x="114.6" y="38.3" font-size="19.2" letter-spacing="2" font-family='"Liberation Serif","Noto Serif CJK SC",serif' font-weight="bold" fill="#000080">图</text>
<text x="146" y="37.7" font-size="21.5" letter-spacing="-0.35" font-family='"Liberation Serif","Noto Serif CJK SC",serif' fill="#000080" stroke="#000080" stroke-width="0.35">40</text>
<text x="167" y="38.3" font-size="19.2" letter-spacing="2" font-family='"Liberation Serif","Noto Serif CJK SC",serif' font-weight="bold" fill="#000080">：北京：环比升</text>
<text x="319.8" y="37.7" font-size="21.5" letter-spacing="-0.35" font-family='"Liberation Serif","Noto Serif CJK SC",serif' fill="#000080" stroke="#000080" stroke-width="0.35">10</text>
<text x="340.7" y="37.7" font-size="21.5" textLength="10" lengthAdjust="spacingAndGlyphs" font-family='"Liberation Serif","Noto Serif CJK SC",serif' fill="#000080" stroke="#000080" stroke-width="0.3">%</text>
<text x="352.8" y="38.3" font-size="19.2" letter-spacing="2" font-family='"Liberation Serif","Noto Serif CJK SC",serif' font-weight="bold" fill="#000080">，同比升</text>
<text x="441.4" y="37.7" font-size="21.5" letter-spacing="-0.35" font-family='"Liberation Serif","Noto Serif CJK SC",serif' fill="#000080" stroke="#000080" stroke-width="0.35">65</text>
<text x="462.3" y="37.7" font-size="21.5" textLength="10" lengthAdjust="spacingAndGlyphs" font-family='"Liberation Serif","Noto Serif CJK SC",serif' fill="#000080" stroke="#000080" stroke-width="0.3">%</text>
<text x="608.1" y="38.3" font-size="19.2" letter-spacing="2" font-family='"Liberation Serif","Noto Serif CJK SC",serif' font-weight="bold" fill="#000080">图</text>
<text x="639.5" y="37.7" font-size="21.5" letter-spacing="-0.35" font-family='"Liberation Serif","Noto Serif CJK SC",serif' fill="#000080" stroke="#000080" stroke-width="0.35">41</text>
<text x="660.5" y="38.3" font-size="19.2" letter-spacing="2" font-family='"Liberation Serif","Noto Serif CJK SC",serif' font-weight="bold" fill="#000080">：深圳：环比降</text>
<text x="813.3" y="37.7" font-size="21.5" letter-spacing="-0.35" font-family='"Liberation Serif","Noto Serif CJK SC",serif' fill="#000080" stroke="#000080" stroke-width="0.35">13</text>
<text x="834.2" y="37.7" font-size="21.5" textLength="10" lengthAdjust="spacingAndGlyphs" font-family='"Liberation Serif","Noto Serif CJK SC",serif' fill="#000080" stroke="#000080" stroke-width="0.3">%</text>
<text x="846.3" y="38.3" font-size="19.2" letter-spacing="2" font-family='"Liberation Serif","Noto Serif CJK SC",serif' font-weight="bold" fill="#000080">，同比降</text>
<text x="934.9" y="37.7" font-size="21.5" letter-spacing="-0.35" font-family='"Liberation Serif","Noto Serif CJK SC",serif' fill="#000080" stroke="#000080" stroke-width="0.35">45</text>
<text x="955.8" y="37.7" font-size="21.5" textLength="10" lengthAdjust="spacingAndGlyphs" font-family='"Liberation Serif","Noto Serif CJK SC",serif' fill="#000080" stroke="#000080" stroke-width="0.3">%</text>
<text x="114.6" y="382.9" font-size="19.2" letter-spacing="2" font-family='"Liberation Serif","Noto Serif CJK SC",serif' font-weight="bold" fill="#000080">图</text>
<text x="146" y="382.3" font-size="21.5" letter-spacing="-0.35" font-family='"Liberation Serif","Noto Serif CJK SC",serif' fill="#000080" stroke="#000080" stroke-width="0.35">42</text>
<text x="167" y="382.9" font-size="19.2" letter-spacing="2" font-family='"Liberation Serif","Noto Serif CJK SC",serif' font-weight="bold" fill="#000080">：天津：环比降</text>
<text x="319.8" y="382.3" font-size="21.5" letter-spacing="-0.35" font-family='"Liberation Serif","Noto Serif CJK SC",serif' fill="#000080" stroke="#000080" stroke-width="0.35">2</text>
<text x="330.4" y="382.3" font-size="21.5" textLength="10" lengthAdjust="spacingAndGlyphs" font-family='"Liberation Serif","Noto Serif CJK SC",serif' fill="#000080" stroke="#000080" stroke-width="0.3">%</text>
<text x="342.1" y="382.9" font-size="19.2" letter-spacing="2" font-family='"Liberation Serif","Noto Serif CJK SC",serif' font-weight="bold" fill="#000080">，同比升</text>
<text x="430.7" y="382.3" font-size="21.5" letter-spacing="-0.35" font-family='"Liberation Serif","Noto Serif CJK SC",serif' fill="#000080" stroke="#000080" stroke-width="0.35">18</text>
<text x="451.6" y="382.3" font-size="21.5" textLength="10" lengthAdjust="spacingAndGlyphs" font-family='"Liberation Serif","Noto Serif CJK SC",serif' fill="#000080" stroke="#000080" stroke-width="0.3">%</text>
<text x="608.1" y="382.9" font-size="19.2" letter-spacing="2" font-family='"Liberation Serif","Noto Serif CJK SC",serif' font-weight="bold" fill="#000080">图</text>
<text x="639.5" y="382.3" font-size="21.5" letter-spacing="-0.35" font-family='"Liberation Serif","Noto Serif CJK SC",serif' fill="#000080" stroke="#000080" stroke-width="0.35">43</text>
<text x="660.5" y="382.9" font-size="19.2" letter-spacing="2" font-family='"Liberation Serif","Noto Serif CJK SC",serif' font-weight="bold" fill="#000080">：长沙：环比降</text>
<text x="813.3" y="382.3" font-size="21.5" letter-spacing="-0.35" font-family='"Liberation Serif","Noto Serif CJK SC",serif' fill="#000080" stroke="#000080" stroke-width="0.35">75</text>
<text x="834.2" y="382.3" font-size="21.5" textLength="10" lengthAdjust="spacingAndGlyphs" font-family='"Liberation Serif","Noto Serif CJK SC",serif' fill="#000080" stroke="#000080" stroke-width="0.3">%</text>
<text x="846.3" y="382.9" font-size="19.2" letter-spacing="2" font-family='"Liberation Serif","Noto Serif CJK SC",serif' font-weight="bold" fill="#000080">，同比降</text>
<text x="934.9" y="382.3" font-size="21.5" letter-spacing="-0.35" font-family='"Liberation Serif","Noto Serif CJK SC",serif' fill="#000080" stroke="#000080" stroke-width="0.35">73</text>
<text x="955.8" y="382.3" font-size="21.5" textLength="10" lengthAdjust="spacingAndGlyphs" font-family='"Liberation Serif","Noto Serif CJK SC",serif' fill="#000080" stroke="#000080" stroke-width="0.3">%</text>
<text x="114.6" y="726.9" font-size="19.2" letter-spacing="2" font-family='"Liberation Serif","Noto Serif CJK SC",serif' font-weight="bold" fill="#000080">图</text>
<text x="146" y="726.3" font-size="21.5" letter-spacing="-0.35" font-family='"Liberation Serif","Noto Serif CJK SC",serif' fill="#000080" stroke="#000080" stroke-width="0.35">44</text>
<text x="167" y="726.9" font-size="19.2" letter-spacing="2" font-family='"Liberation Serif","Noto Serif CJK SC",serif' font-weight="bold" fill="#000080">：大连：近期无数据</text>
<text x="608.1" y="726.9" font-size="19.2" letter-spacing="2" font-family='"Liberation Serif","Noto Serif CJK SC",serif' font-weight="bold" fill="#000080">图</text>
<text x="639.5" y="726.3" font-size="21.5" letter-spacing="-0.35" font-family='"Liberation Serif","Noto Serif CJK SC",serif' fill="#000080" stroke="#000080" stroke-width="0.35">45</text>
<text x="660.5" y="726.9" font-size="19.2" letter-spacing="2" font-family='"Liberation Serif","Noto Serif CJK SC",serif' font-weight="bold" fill="#000080">：成都：环比升</text>
<text x="813.3" y="726.3" font-size="21.5" letter-spacing="-0.35" font-family='"Liberation Serif","Noto Serif CJK SC",serif' fill="#000080" stroke="#000080" stroke-width="0.35">18</text>
<text x="834.2" y="726.3" font-size="21.5" textLength="10" lengthAdjust="spacingAndGlyphs" font-family='"Liberation Serif","Noto Serif CJK SC",serif' fill="#000080" stroke="#000080" stroke-width="0.3">%</text>
<text x="846.3" y="726.9" font-size="19.2" letter-spacing="2" font-family='"Liberation Serif","Noto Serif CJK SC",serif' font-weight="bold" fill="#000080">，同比升</text>
<text x="934.9" y="726.3" font-size="21.5" letter-spacing="-0.35" font-family='"Liberation Serif","Noto Serif CJK SC",serif' fill="#000080" stroke="#000080" stroke-width="0.35">241</text>
<text x="966.1" y="726.3" font-size="21.5" textLength="10" lengthAdjust="spacingAndGlyphs" font-family='"Liberation Serif","Noto Serif CJK SC",serif' fill="#000080" stroke="#000080" stroke-width="0.3">%</text>
<text x="114.6" y="1070" font-size="16.8" letter-spacing="1.22" font-family='"Liberation Serif","Noto Serif CJK SC",serif' fill="#111">资料来源：中投证券研究所，中国指数研究院</text>
</svg></body></html>
